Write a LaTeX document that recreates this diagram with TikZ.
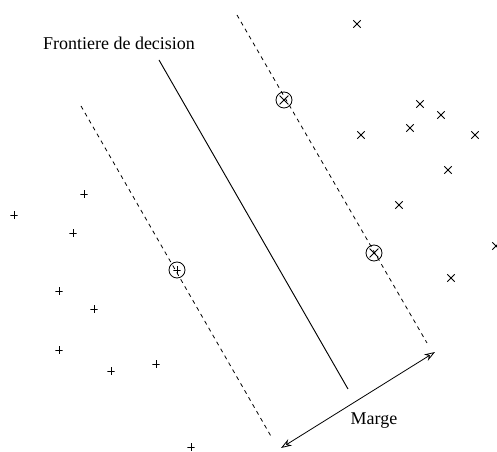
\documentclass[tikz,border=0pt]{standalone}
\usepackage{fontspec}
\setmainfont{Liberation Serif}
\usetikzlibrary{
  arrows.meta,
  shapes.misc
}

\begin{document}
\begin{tikzpicture}[
  x=0.75pt, y=-0.75pt,
  font=\fontsize{13.5}{16}\selectfont,
  boundary/.style={black, line width=0.7pt},
  marginline/.style={black, line width=0.6pt, dash pattern=on 3pt off 3pt},
  negmark/.style={
    cross out, draw=black, line width=0.6pt,
    minimum size=5pt, inner sep=0pt
  },
  posmark/.style={
    rectangle, minimum size=5.6pt, inner sep=0pt,
    path picture={
      \draw[line width=0.6pt]
        (path picture bounding box.west) -- (path picture bounding box.east)
        (path picture bounding box.north) -- (path picture bounding box.south);
    }
  },
  sv/.style={circle, draw=black, line width=0.6pt, minimum size=12pt, inner sep=0pt},
  arrow/.style={{Stealth[open, length=8pt, width=5.5pt]}-{Stealth[open, length=8pt, width=5.5pt]}, black, line width=0.6pt},
]
\useasboundingbox (0,0) rectangle (497,452);

% Decision boundary and margins
\coordinate (b1) at (159,60);
\coordinate (b2) at (348,389);
\coordinate (l1) at (81,106);
\coordinate (l2) at (272,438);
\coordinate (r1) at (237,15);
\coordinate (r2) at (427,343);
\draw[boundary] (b1) -- (b2);
\draw[marginline] (l1) -- (l2);
\draw[marginline] (r1) -- (r2);

\node (title) at (119,43) {Frontiere de decision};

% Support vectors
\node[sv] (sv1) at (284,100) {};
\node[negmark, minimum size=6pt] (sv1m) at (sv1) {};
\node[sv] (sv2) at (374,253) {};
\node[negmark, minimum size=6pt] (sv2m) at (sv2) {};
\node[sv] (sv3) at (177,270) {};
\node[posmark] (sv3m) at (sv3) {};

% Class +1
\node[posmark] (p1) at (84,194) {};
\node[posmark] (p2) at (14,215) {};
\node[posmark] (p3) at (73,233) {};
\node[posmark] (p4) at (59,291) {};
\node[posmark] (p5) at (94,309) {};
\node[posmark] (p6) at (59,350) {};
\node[posmark] (p7) at (111,371) {};
\node[posmark] (p8) at (156,364) {};
\node[posmark] (p9) at (191,447) {};

% Class -1
\node[negmark] (n1) at (357,24) {};
\node[negmark] (n2) at (420,104) {};
\node[negmark] (n3) at (441,115) {};
\node[negmark] (n4) at (410,128) {};
\node[negmark] (n5) at (361,135) {};
\node[negmark] (n6) at (475,135) {};
\node[negmark] (n7) at (448,170) {};
\node[negmark] (n8) at (399,205) {};
\node[negmark] (n9) at (451,278) {};
\node[negmark] (n10) at (496,246) {};

% Margin width
\coordinate (m1) at (281,448);
\coordinate (m2) at (435,352);
\draw[arrow] (m1) -- (m2);
\node (marge) at (374,421) {Marge};

\end{tikzpicture}
\end{document}
